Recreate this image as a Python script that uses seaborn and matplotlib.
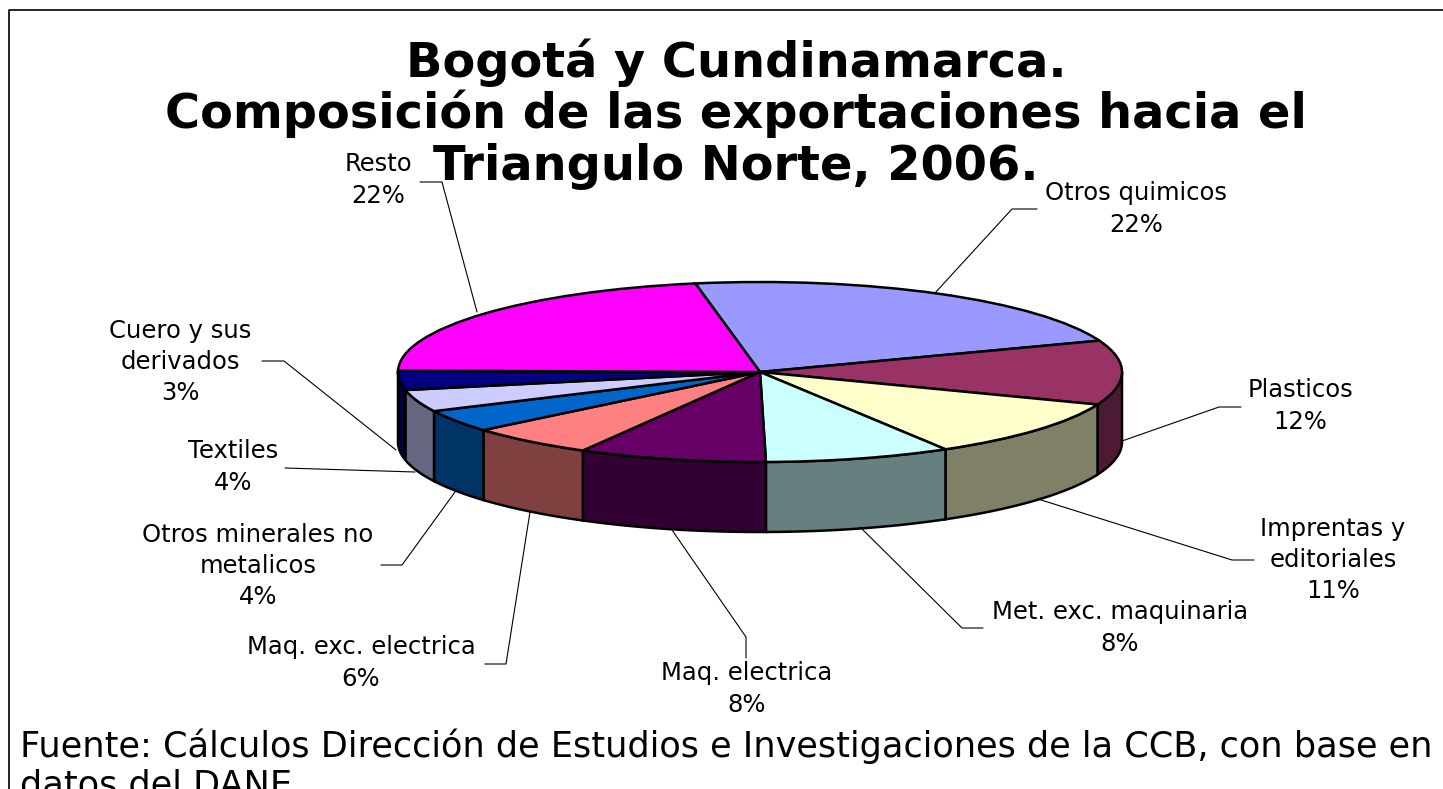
import numpy as np
import matplotlib
matplotlib.use("Agg")
import matplotlib.pyplot as plt
from matplotlib.colors import to_rgb
from matplotlib.patches import Polygon
import seaborn as sns

categories = ["Otros quimicos", "Plasticos", "Imprentas y\neditoriales", "Met. exc. maquinaria",
              "Maq. electrica", "Maq. exc. electrica", "Otros minerales no\nmetalicos",
              "Textiles", "Cuero y sus\nderivados", "Resto"]
values = [22.2, 11.55, 10.55, 8.3, 8.4, 5.7, 4.0, 3.95, 3.45, 21.9]
top_colors = ["#9999FF", "#993366", "#FFFFCC", "#CCFFFF", "#660066", "#FF8080", "#0066CC",
              "#CCCCFF", "#000080", "#FF00FF"]
title_lines = "Bogotá y Cundinamarca.\nComposición de las exportaciones hacia el\nTriangulo Norte, 2006."
source = "Fuente: Cálculos Dirección de Estudios e Investigaciones de la CCB, con base en\ndatos del DANE"

W, H = 1443, 789
CX, CY, RX, RY, DEPTH = 760, 372, 362, 90, 70
START = 100.3

sns.set_theme(style="white")
plt.rcParams["font.family"] = ["DejaVu Sans"]
fig = plt.figure(figsize=(W / 100, H / 100), dpi=100, facecolor="white")
ax = fig.add_axes([0, 0, 1, 1])

wedges, _ = ax.pie(values, colors=top_colors, startangle=START, counterclock=False, radius=1,
                   wedgeprops=dict(edgecolor="black", linewidth=1.8, zorder=5))
ax.set_aspect("auto")
ax.set_xlim((0 - CX) / RX, (W - CX) / RX)
ax.set_ylim((CY - H) / RY, (CY - 0) / RY)
ax.axis("on")
ax.set_xticks([]); ax.set_yticks([])
for s in ax.spines.values():
    s.set_visible(False)

def px(x, y):
    return (x - CX) / RX, (CY - y) / RY

# side walls derived from the slice angles
d = DEPTH / RY
bounds = START - np.cumsum([0] + values) / sum(values) * 360
for i, c in enumerate(top_colors):
    a0, a1 = bounds[i], bounds[i + 1]
    for lo_v, hi_v in [(max(a1, -180), min(a0, 0)), (max(a1, -540), min(a0, -360))]:
        if hi_v <= lo_v:
            continue
        t = np.radians(np.linspace(hi_v, lo_v, 60))
        xs, ys = np.cos(t), np.sin(t)
        poly = np.column_stack([np.r_[xs, xs[::-1]], np.r_[ys, ys[::-1] - d]])
        dark = tuple(v * 0.5 for v in to_rgb(c))
        ax.add_patch(Polygon(poly, closed=True, facecolor=dark, edgecolor="black", linewidth=1.8, zorder=3))

# title, labels, leaders
TITLE_Y = [63, 114, 166]
for line, y in zip(title_lines.split("\n"), TITLE_Y):
    ax.text(*px(736, y), line, ha="center", va="center", fontsize=34.5, fontweight="bold", color="black", zorder=8)

label_pos = [(1136, 209), (1300, 406), (1333, 560), (1120, 628), (747, 689), (361, 663), (258, 566), (233, 467), (180, 362), (378, 180)]
leaders = [
    [(1037, 209), (1012, 209), (935, 293)],
    [(1241, 407), (1219, 407), (1122, 441)],
    [(1254, 560), (1232, 560), (1038, 499)],
    [(983, 628), (962, 628), (860, 527)],
    [(746, 658), (746, 637), (672, 530)],
    [(485, 664), (506, 664), (530, 512)],
    [(381, 565), (402, 565), (455, 492)],
    [(285, 468), (415, 472)],
    [(262, 361), (284, 361), (396, 450)],
    [(420, 182), (442, 182), (477, 312)],
]
for cat, v, pos, lead in zip(categories, values, label_pos, leaders):
    ax.text(*px(*pos), f"{cat}\n{v:.0f}%", ha="center", va="center", fontsize=17.5, color="black",
            linespacing=1.38, zorder=8)
    pts = np.array([px(*p) for p in lead])
    ax.plot(pts[:, 0], pts[:, 1], color="black", lw=0.8, zorder=7)

ax.text(*px(20, 746), source.split("\n")[0], ha="left", va="center", fontsize=25.3, color="black")
ax.text(*px(20, 786), source.split("\n")[1], ha="left", va="center", fontsize=25.3, color="black")

# outer frame (open on the right and bottom, as cropped in the source image)
fx = np.array([px(9, 800), px(9, 9.5), px(1450, 9.5)])
ax.plot(fx[:, 0], fx[:, 1], color="black", lw=1.2, zorder=9)

fig.savefig("out.png", dpi=100, facecolor="white")
